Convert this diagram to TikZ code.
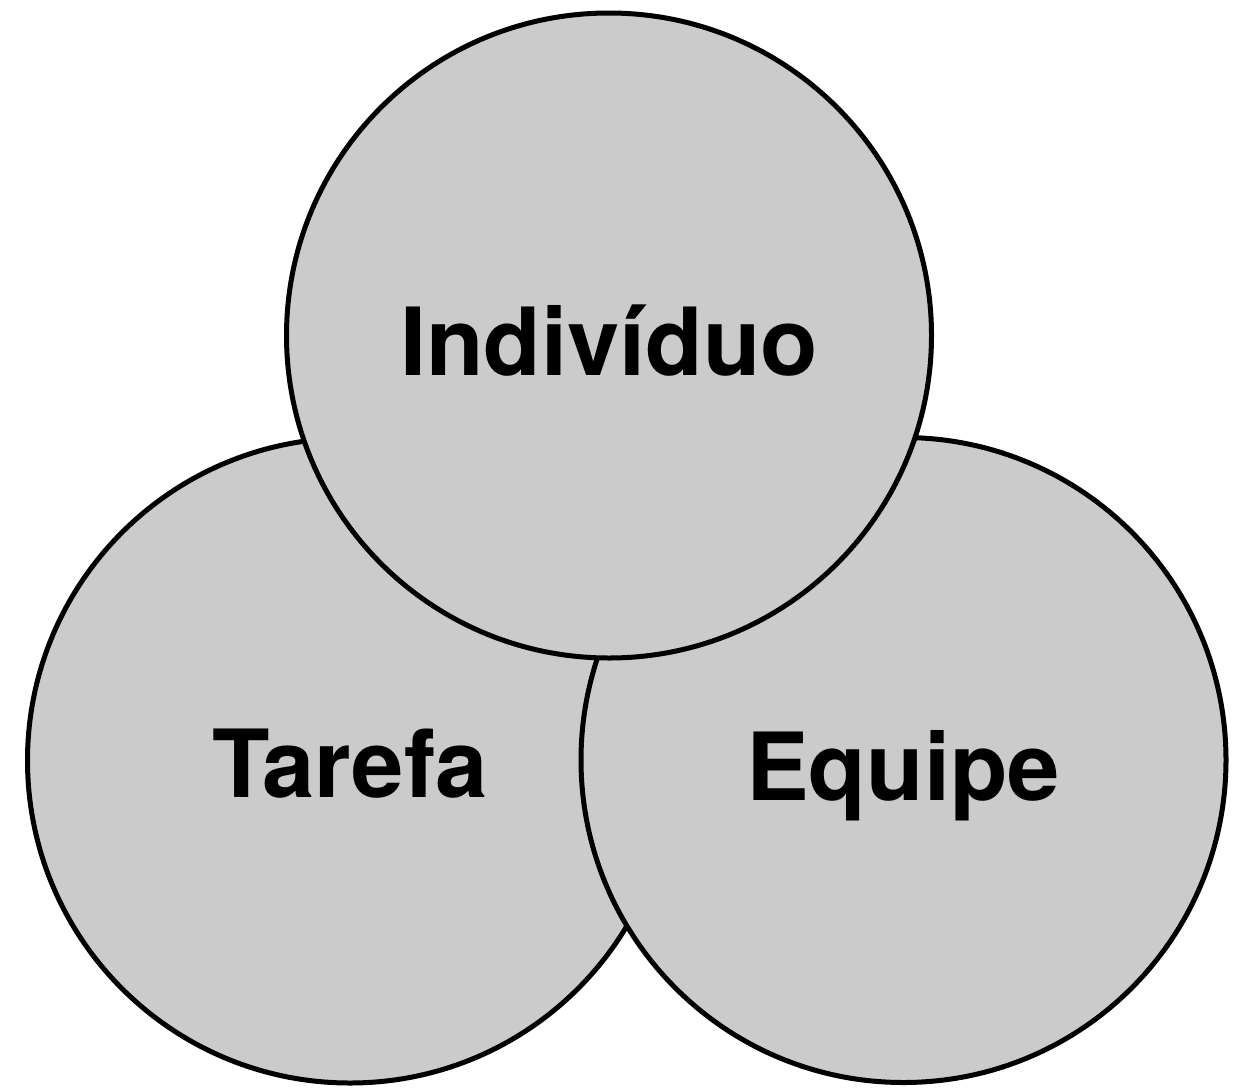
\documentclass[tikz,border=0pt]{standalone}
\usepackage{fontspec}
\setmainfont{TeX Gyre Heros}
\definecolor{circfill}{HTML}{CBCBCB}
\begin{document}
\begin{tikzpicture}[x=1pt,y=-1pt,
  setcircle/.style={circle, draw=black, line width=5pt, fill=circfill, minimum size=645pt, inner sep=0pt},
  label/.style={font=\bfseries\fontsize{94}{100}\selectfont, anchor=base, inner sep=0pt}]
\useasboundingbox (0,0) rectangle (1247,1087);
\node[setcircle] (tarefa) at (350,760.5) {};
\node[setcircle] (equipe) at (903.5,760) {};
\node[setcircle] (individuo) at (609,335.5) {};
\node[label] (tIndividuo) at (609,375) {Indivíduo};
\node[label] (tTarefa) at (350,797) {Tarefa};
\node[label] (tEquipe) at (903,800) {Equipe};
\end{tikzpicture}
\end{document}
